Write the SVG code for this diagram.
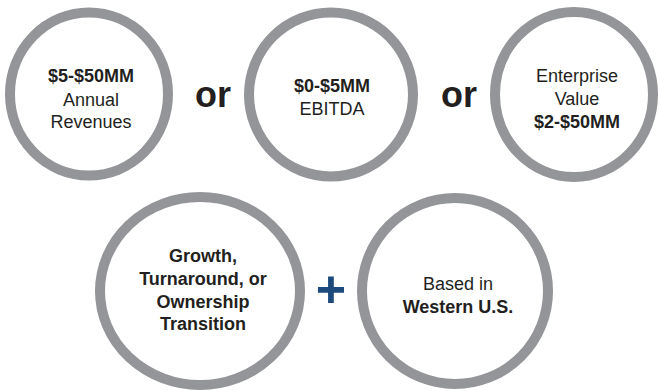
<svg xmlns="http://www.w3.org/2000/svg" width="660" height="391" viewBox="0 0 660 391">
<style>
.ring{fill:#ffffff;stroke:#939598;stroke-width:10}
.t{font-family:"Liberation Sans",Arial,sans-serif;font-size:18px;fill:#231f20;text-anchor:middle}
.b{font-weight:bold}
.or{font-family:"Liberation Sans",Arial,sans-serif;font-size:36px;font-weight:bold;fill:#231f20;text-anchor:middle}
.plus{font-family:"Liberation Sans",Arial,sans-serif;font-size:52px;font-weight:bold;fill:#1c4a7c;text-anchor:middle}
</style>
<rect width="660" height="391" fill="#ffffff"/>
<g id="node-revenues">
<ellipse class="ring" cx="89" cy="94" rx="79" ry="81.5"/>
<text class="t b" x="91" y="82">$5-$50MM</text>
<text class="t" x="91" y="106">Annual</text>
<text class="t" x="91" y="128">Revenues</text>
</g>
<g id="node-ebitda">
<circle class="ring" cx="331" cy="94.5" r="82"/>
<text class="t b" x="332" y="92">$0-$5MM</text>
<text class="t" x="332" y="115">EBITDA</text>
</g>
<g id="node-ev">
<ellipse class="ring" cx="574" cy="94.5" rx="79" ry="82.5"/>
<text class="t" x="577" y="82">Enterprise</text>
<text class="t" x="577" y="105">Value</text>
<text class="t b" x="577" y="128">$2-$50MM</text>
</g>
<g id="node-growth">
<ellipse class="ring" cx="200" cy="291" rx="100" ry="94"/>
<text class="t b" x="203" y="262">Growth,</text>
<text class="t b" x="203" y="285">Turnaround, or</text>
<text class="t b" x="203" y="308">Ownership</text>
<text class="t b" x="203" y="330">Transition</text>
</g>
<g id="node-western">
<circle class="ring" cx="455" cy="291" r="93"/>
<text class="t" x="458" y="290">Based in</text>
<text class="t b" x="458" y="313">Western U.S.</text>
</g>
<g id="connectors">
<text class="or" x="213" y="107">or</text>
<text class="or" x="459" y="107">or</text>
<text class="plus" x="331" y="307">+</text>
</g>
</svg>
